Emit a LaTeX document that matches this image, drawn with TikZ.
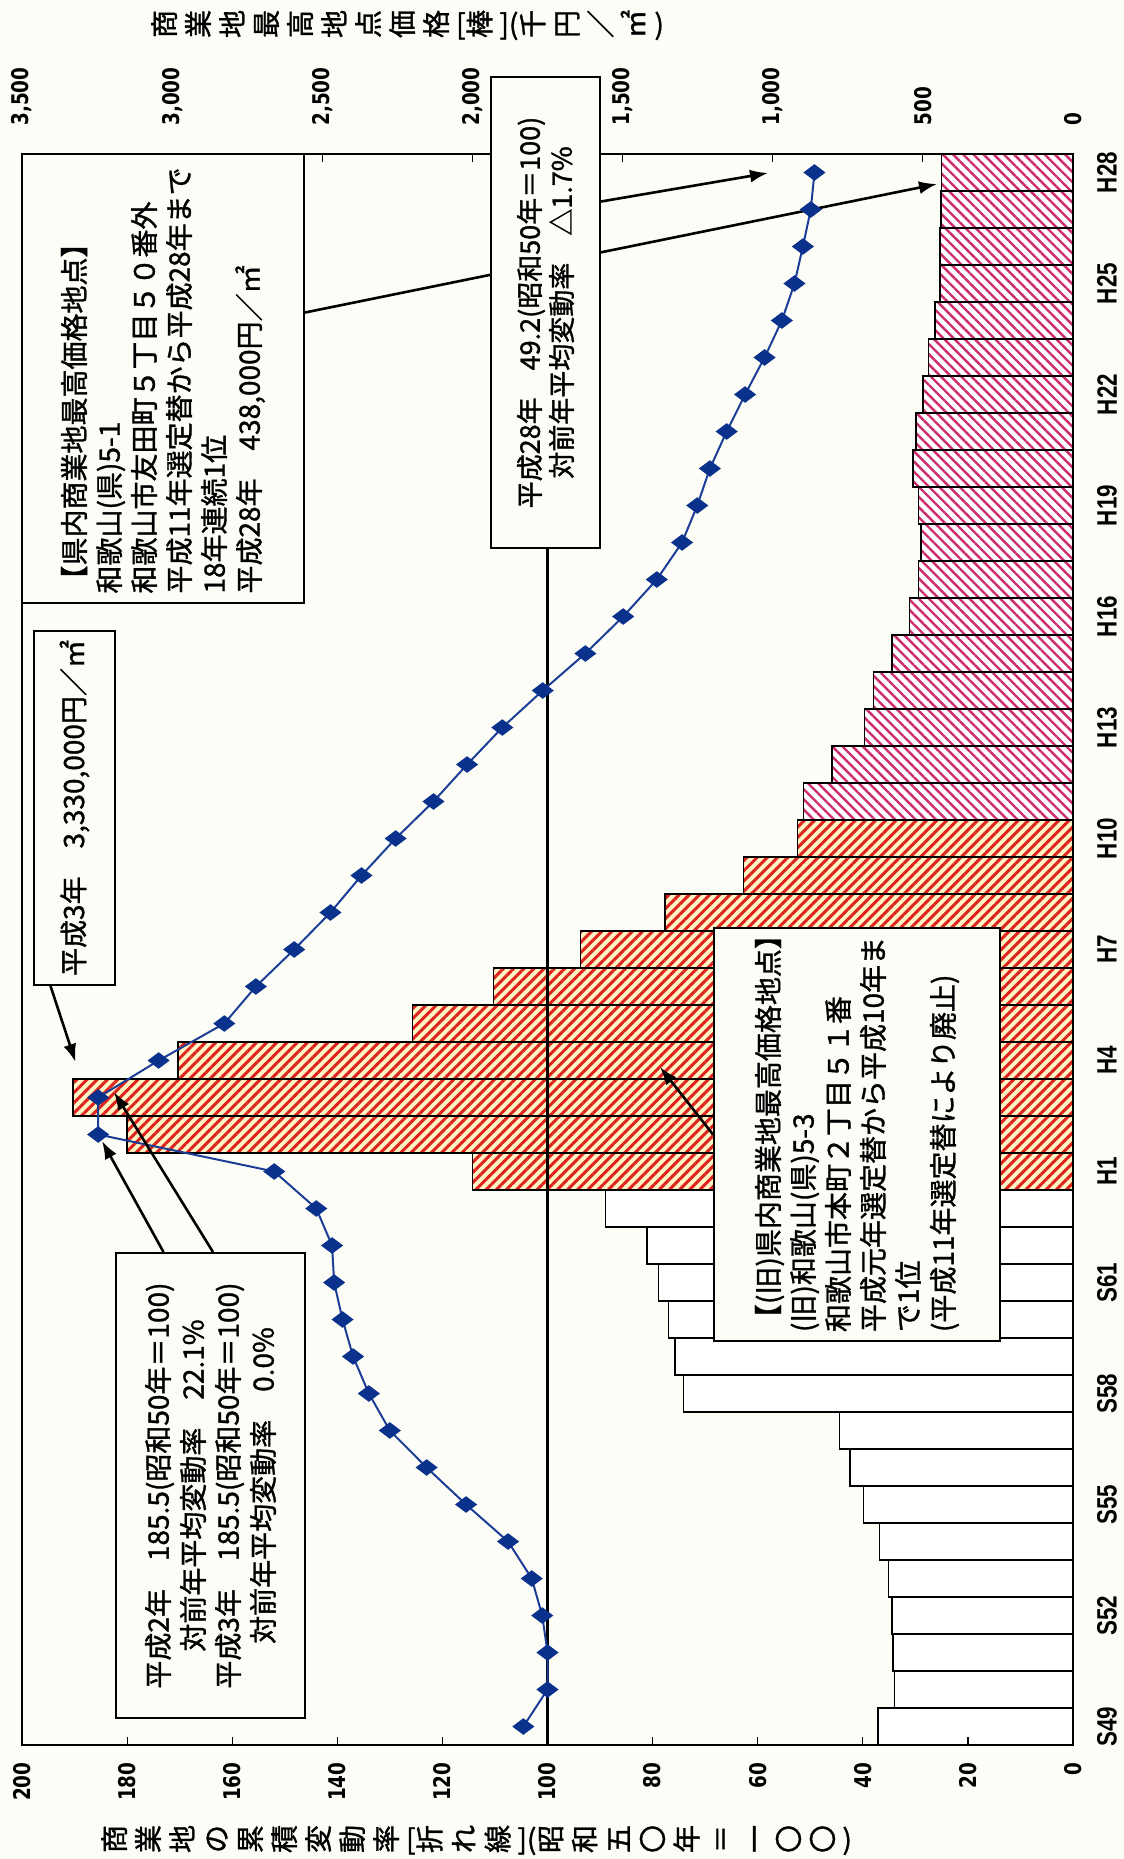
\documentclass[tikz,border=0pt]{standalone}
\usepackage{fontspec}
\usepackage{graphicx}
\setmainfont[FakeBold=1.2]{Noto Sans CJK JP}
\newfontfamily\numfont[FakeStretch=0.8]{DejaVu Sans}
\newfontfamily\yearfont[FakeStretch=0.8]{Liberation Sans}
\usetikzlibrary{arrows.meta,patterns.meta,plotmarks,calc}

\definecolor{paper}{RGB}{253,253,248}
\definecolor{lineblue}{RGB}{28,62,150}
\definecolor{markblue}{RGB}{10,50,140}
\definecolor{hatchred}{RGB}{222,35,30}
\definecolor{hatchyellow}{RGB}{255,244,196}
\definecolor{hatchpink}{RGB}{205,45,110}

\pgfdeclarelayer{back}
\pgfsetlayers{back,main}

% one upright glyph of a vertical title (fixed 1em cell)
\newcommand{\tc}[1]{\rotatebox[origin=c]{90}{\raisebox{0pt}[0.88em][0.12em]{#1}}\kern3pt}

\begin{document}
\begin{tikzpicture}[x=0.5pt, y=-0.5pt,
  ibox/.style={draw, line width=1pt, fill=paper, rotate=90, inner xsep=4.5pt, inner ysep=0pt,
    font=\fontsize{14}{17.5}\selectfont},
  callout/.style={-{Latex[length=9pt,width=6.5pt]}, line width=1.3pt},
  oldbar/.style={draw, line width=0.8pt, fill=white},
  redbar/.style={draw, line width=0.8pt, preaction={fill=hatchyellow},
    pattern={Lines[angle=45,distance=3.6pt,line width=1.5pt]}, pattern color=hatchred},
  pinkbar/.style={draw, line width=0.8pt, preaction={fill=white},
    pattern={Lines[angle=-45,distance=3.6pt,line width=1.2pt]}, pattern color=hatchpink},
  idxlabel/.style={font=\numfont\bfseries\fontsize{11.5}{12}\selectfont, rotate=90, inner sep=0pt},
  yrlabel/.style={font=\yearfont\bfseries\fontsize{14}{14}\selectfont, rotate=90, inner sep=0pt}]

\def\zeroX{1073}
\def\pxIdx{5.255}
\def\pxYen{0.3003}
\def\slotY{37}
\def\firstY{1726.5}

\useasboundingbox (0,0) rectangle (1124,1859);
\begin{pgfonlayer}{back}
  \fill[paper] (0,0) rectangle (1124,1859);
\end{pgfonlayer}

% plot area: x = index (0 right), y = year slot (S49 bottom)
\begin{scope}[shift={(\zeroX,\firstY)}, x={(-\pxIdx,0)}, y={(0,-\slotY)}]

  % bars, price in thousand yen (3500 = index 200)
  \foreach \p [count=\i from 0] in {650,595,600,603,615,645,698,742,778,1297,1325,1347,1380,1419,1557}
    \draw[oldbar] (0,\i-0.5) rectangle ({\p/17.5},\i+0.5);
  \foreach \p [count=\i from 15] in {2000,3150,3330,2980,2200,1930,1640,1358,1097,917}
    \draw[redbar] (0,\i-0.5) rectangle ({\p/17.5},\i+0.5);
  \foreach \p [count=\i from 25] in {897,803,694,664,603,545,515,507,515,533,522,500,481,459,443,442,440,438}
    \draw[pinkbar] (0,\i-0.5) rectangle ({\p/17.5},\i+0.5);

  % frame and ticks
  \draw[line width=0.8pt] (0,-0.5) rectangle (200,42.5);
  \foreach \v in {20,40,...,180}
    \draw[line width=0.6pt] (\v,-0.5) -- ++(0,0.22);
  \foreach \p in {500,1000,...,3000}
    \draw[line width=0.6pt] ({\p/17.5},42.5) -- ++(0,-0.22);

  % base line S50 = 100
  \draw[line width=1.6pt] (100,-0.5) -- (100,42.5);

  % cumulative index
  \draw[lineblue, line width=1pt] plot[mark=diamond*, mark size=4.7pt,
      mark options={rotate=90, fill=markblue, draw=markblue}] coordinates {
    (104.6,0) (100,1) (100,2) (101,3) (103,4) (107.5,5) (115.5,6) (123,7) (130,8)
    (134,9) (137,10) (139,11) (140.6,12) (141,13) (144,14) (152,15) (185.5,16)
    (185.5,17) (174,18) (161.5,19) (155.5,20) (148.2,21) (141.3,22) (135.4,23)
    (128.9,24) (121.7,25) (115.3,26) (108.6,27) (100.9,28) (92.8,29) (85.6,30)
    (79.2,31) (74.4,32) (71.5,33) (69.1,34) (65.9,35) (62.4,36) (58.7,37)
    (55.4,38) (53,39) (51.4,40) (49.9,41) (49.2,42)};
\end{scope}

% axis labels
\foreach \v in {0,20,...,200}
  \node[idxlabel, anchor=east] (il\v) at ({\zeroX-\pxIdx*\v},1762) {\v};
\foreach \p/\t in {0/0,500/500,1000/{1,000},1500/{1,500},2000/{2,000},2500/{2,500},3000/{3,000},3500/{3,500}}
  \node[idxlabel, anchor=west] (pl\p) at ({\zeroX-\pxYen*\p},126) {\t};
\foreach \t [count=\k from 0] in {S49,S52,S55,S58,S61,H1,H4,H7,H10,H13,H16,H19,H22,H25,H28}
  \node[yrlabel] (yl\k) at (1107,{\firstY-3*\slotY*\k}) {\t};

% axis titles
\node[font=\fontsize{14}{14}\selectfont, inner sep=0pt] (pricetitle) at (407,25)
  {\tc{商}\tc{業}\tc{地}\tc{最}\tc{高}\tc{地}\tc{点}\tc{価}\tc{格}[\tc{棒}](\tc{千}\tc{円}\tc{／}\tc{㎡})};
\node[font=\fontsize{14}{14}\selectfont, inner sep=0pt] (idxtitle) at (476,1840)
  {\tc{商}\tc{業}\tc{地}\tc{の}\tc{累}\tc{積}\tc{変}\tc{動}\tc{率}[\tc{折}\tc{れ}\tc{線}](\tc{昭}\tc{和}\tc{五}\tc{〇}\tc{年}\tc{＝}\tc{一}\tc{〇}\tc{〇})};

% call-out boxes
\node[ibox, minimum width=224.5pt, minimum height=141pt, text width=215pt, align=left] (boxA) at (163,378.5)
  {【県内商業地最高価格地点】\\和歌山(県)5-1\\和歌山市友田町５丁目５０番外\\平成11年選定替から平成28年まで\\18年連続1位\\平成28年　438,000円／㎡};
\node[ibox, minimum width=165pt, minimum height=40.5pt] (boxB) at (74.5,808)
  {平成3年　3,330,000円／㎡};
\node[ibox, minimum width=235.5pt, minimum height=54.5pt, align=center,
  font=\fontsize{13.5}{16}\selectfont] (boxC) at (545.5,312.5)
  {平成28年　49.2(昭和50年＝100)\\対前年平均変動率　△1.7\%};
\node[ibox, minimum width=205.5pt, minimum height=143pt, text width=197.5pt, align=left] (boxD) at (857,1134.5)
  {【(旧)県内商業地最高価格地点】\\(旧)和歌山(県)5-3\\和歌山市本町２丁目５１番\\平成元年選定替から平成10年ま\\で1位\\(平成11年選定替により廃止)};
\node[ibox, minimum width=232.5pt, minimum height=94.5pt, align=center] (boxE) at (210.5,1485.5)
  {平成2年　185.5(昭和50年＝100)\\対前年平均変動率　22.1\%\\平成3年　185.5(昭和50年＝100)\\対前年平均変動率　0.0\%};

% arrows
\coordinate (tipH28bar) at (937,184);
\coordinate (tipH28mark) at (768,173);
\coordinate (tipH3bar) at (75.5,1062);
\coordinate (tipH2mark) at (102,1141);
\coordinate (tipH3mark) at (114,1092);
\coordinate (tipOld) at (660,1067);

\begin{pgfonlayer}{back}
  \draw[callout] ($(boxA.south)+(0,-66)$) -- (tipH28bar);
\end{pgfonlayer}
\draw[callout] ($(boxC.south)+(0,-111)$) -- (tipH28mark);
\draw[callout] ($(boxB.west)+(-24,0)$) -- (tipH3bar);
\draw[callout] ($(boxE.east)+(-47,0)$) -- (tipH2mark);
\draw[callout] ($(boxE.east)+(2.5,0)$) -- (tipH3mark);
\draw[callout] (boxD.north) -- (tipOld);

\end{tikzpicture}
\end{document}
